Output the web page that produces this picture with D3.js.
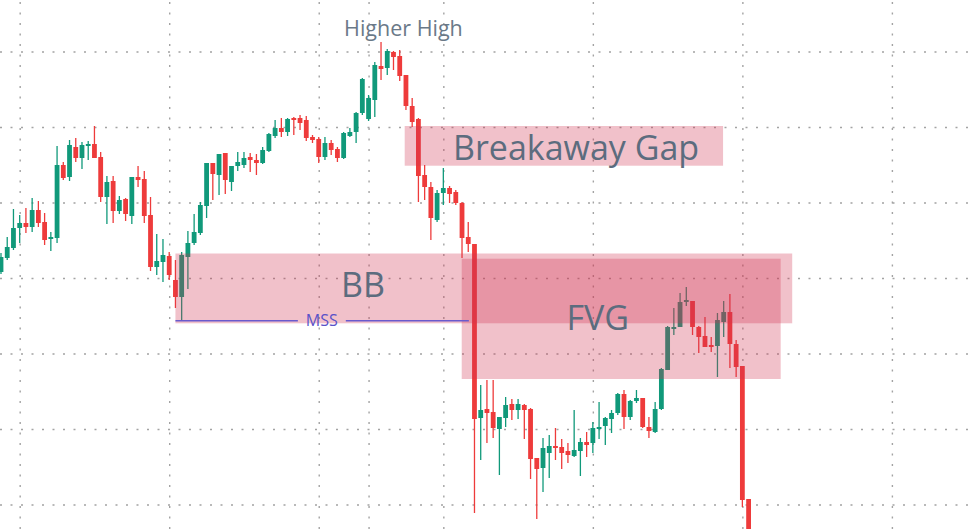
<!DOCTYPE html>
<html><head><meta charset="utf-8">
<script src="https://cdn.jsdelivr.net/npm/d3@7"></script>
<style>html,body{margin:0;padding:0;background:#fff;overflow:hidden}</style>
</head><body>
<svg id="chart" width="975" height="529"></svg>
<script>
// price values (arbitrary units)
const opens  = [328,342,352,372,377,373,390,378,361,362,435,423,453,442,454,456,443,403,419,389,401,384,423,421,385,333,338,344,320,303,343,357,367,394,437,425,447,418,434,435,443,440,437,449,464,472,468,482,482,480,463,461,443,457,451,442,464,468,487,481,500,534,532,548,544,525,494,481,425,413,380,407,412,408,397,363,356,182,191,188,171,182,196,190,195,191,142,132,147,154,153,149,144,149,158,157,171,174,181,187,206,183,199,202,173,168,191,230,271,273,298,299,273,264,255,254,278,288,256,234,101];
const highs  = [347,363,391,385,392,402,399,387,368,454,438,460,462,458,459,474,448,424,424,404,402,423,434,429,403,366,361,348,340,348,369,386,398,437,437,446,447,434,448,448,447,446,453,467,480,482,482,483,485,484,465,463,463,460,453,468,472,488,522,505,538,558,551,549,550,525,502,482,435,418,410,432,414,410,398,378,356,215,220,220,183,203,201,201,196,192,142,162,165,172,161,157,190,162,168,178,198,183,190,207,210,200,210,202,183,198,232,274,292,307,313,299,274,283,263,287,299,306,260,234,101];
const lows   = [326,340,350,357,367,368,373,355,349,357,420,419,438,431,440,442,398,376,377,386,379,376,413,377,329,325,318,320,292,280,311,355,365,382,400,405,406,409,429,432,428,425,436,448,462,463,464,465,470,459,457,437,440,445,438,441,463,457,485,479,483,520,525,530,519,490,473,398,400,360,378,395,397,395,342,348,87,140,157,162,125,173,180,181,161,121,81,108,122,140,131,137,143,124,143,147,161,155,167,185,171,180,197,172,162,167,190,230,265,273,294,265,247,253,248,223,263,232,223,93,30];
const closes = [343,353,372,377,373,390,377,360,363,435,422,455,442,455,456,442,403,418,389,400,386,423,420,384,333,339,345,325,303,345,357,368,395,437,426,446,420,434,438,442,440,437,450,466,472,468,481,480,477,462,460,443,457,450,442,467,468,487,521,502,535,531,549,543,524,494,478,424,413,382,407,412,406,397,362,356,181,190,187,172,183,195,190,196,190,141,131,152,154,152,147,145,150,158,155,172,173,182,187,206,183,199,202,173,169,191,231,273,273,298,300,273,263,253,253,280,288,256,233,100,40];

const gridPrices = [95.5, 171, 246.5, 322, 397.5, 473, 548.5];
const gridBars = [3, 27, 51, 59, 71, 95, 119, 143];

const zoneStart  = [64.8, 28.0, 73.95];
const zoneEnd    = [115.9, 127.0, 125.15];
const zoneTop    = [474, 346.5, 341.3];
const zoneBottom = [434.3, 276.7, 221];

const labelTexts  = ["Higher High", "Breakaway Gap", "BB", "FVG"];
const labelBars   = [64.6, 92.3, 58.1, 95.8];
const labelPrices = [564, 440, 303, 270];

const mssText = "MSS";
const mssStart = 28.0, mssEnd = 75.1, mssPrice = 279.3, mssLabelBar = 51.5;

const W = 975, H = 529;
const svg = d3.select("#chart");
const x = d3.scaleLinear().domain([-0.16, 156.34]).range([0, W]);
const y = d3.scaleLinear().domain([71, 600]).range([H, 0]);

// grid
const gx = svg.append("g").attr("transform", `translate(0,${H})`)
  .call(d3.axisBottom(x).tickValues(gridBars).tickSize(-H).tickFormat(""));
const gy = svg.append("g")
  .call(d3.axisLeft(y).tickValues(gridPrices).tickSize(-W).tickFormat(""));
[gx, gy].forEach(g => {
  g.select(".domain").remove();
  g.selectAll(".tick line").attr("stroke", "#a3a3a3").attr("stroke-width", 1.4)
    .attr("stroke-dasharray", "2,8.5");
});

const UP = "#10997a", DOWN = "#ee3b3b";
const candles = opens.map((o, i) => ({i, o, h: highs[i], l: lows[i], c: closes[i]}));
const cg = svg.append("g");
cg.selectAll("line.wick").data(candles).join("line").attr("class", "wick")
  .attr("x1", d => x(d.i)).attr("x2", d => x(d.i))
  .attr("y1", d => y(d.h)).attr("y2", d => y(d.l))
  .attr("stroke", d => d.c >= d.o ? UP : DOWN).attr("stroke-width", 1.3);
cg.selectAll("rect.body").data(candles).join("rect").attr("class", "body")
  .attr("x", d => x(d.i) - 2.4).attr("width", 4.8)
  .attr("y", d => y(Math.max(d.o, d.c)))
  .attr("height", d => Math.max(1.5, Math.abs(y(d.o) - y(d.c))))
  .attr("fill", d => d.c >= d.o ? UP : DOWN);

// zones
const zones = zoneStart.map((s, k) => ({s, e: zoneEnd[k], t: zoneTop[k], b: zoneBottom[k]}));
svg.append("g").selectAll("rect").data(zones).join("rect")
  .attr("x", d => x(d.s)).attr("width", d => x(d.e) - x(d.s))
  .attr("y", d => y(d.t)).attr("height", d => y(d.b) - y(d.t))
  .attr("fill", "rgba(210,50,80,0.3)");

// labels
const labels = labelTexts.map((t, k) => ({t, b: labelBars[k], p: labelPrices[k], k}));
svg.append("g").selectAll("text").data(labels).join("text")
  .attr("x", d => x(d.b)).attr("y", d => y(d.p))
  .attr("text-anchor", "middle")
  .attr("font-family", "'Open Sans', sans-serif")
  .attr("font-size", d => d.k === 0 ? 21.5 : 34)
  .attr("fill", d => d.k === 0 ? "#6a7988" : "#5c6c7e")
  .text(d => d.t);

// MSS
const mg = svg.append("g");
const mt = mg.append("text").attr("x", x(mssLabelBar)).attr("y", y(mssPrice) + 5.5)
  .attr("text-anchor", "middle").attr("font-family", "'Open Sans', sans-serif")
  .attr("font-size", 16).attr("fill", "#5a52c8").text(mssText);
const half = mt.node().getComputedTextLength() / 2 + 8;
mg.append("line").attr("x1", x(mssStart)).attr("x2", x(mssLabelBar) - half)
  .attr("y1", y(mssPrice)).attr("y2", y(mssPrice)).attr("stroke", "#6a5acd").attr("stroke-width", 1.5);
mg.append("line").attr("x1", x(mssLabelBar) + half).attr("x2", x(mssEnd))
  .attr("y1", y(mssPrice)).attr("y2", y(mssPrice)).attr("stroke", "#6a5acd").attr("stroke-width", 1.5);
</script>
</body></html>
